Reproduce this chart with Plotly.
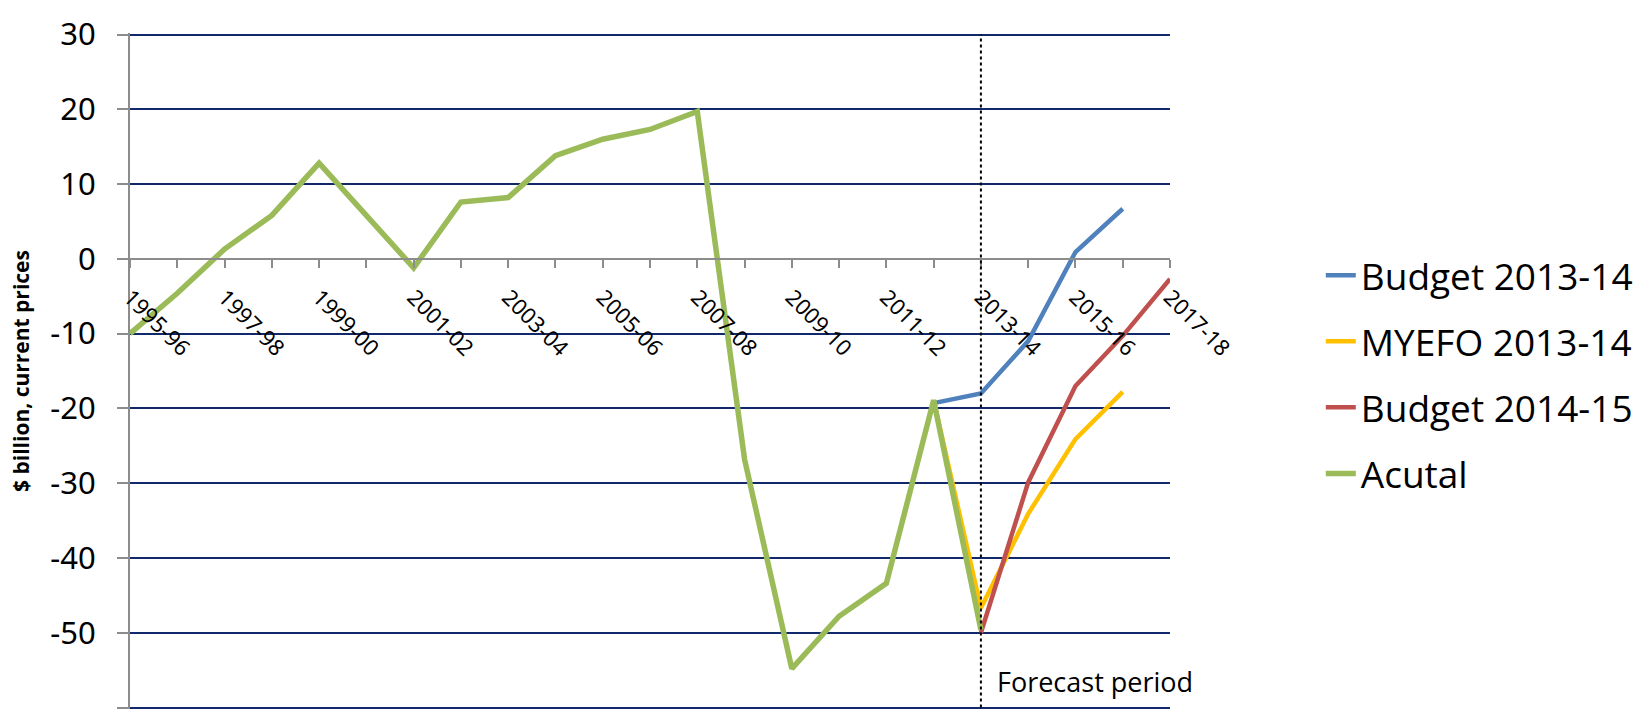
import plotly.graph_objects as go

# Financial years on the category axis
categories = [
    "1995-96", "1996-97", "1997-98", "1998-99", "1999-00", "2000-01",
    "2001-02", "2002-03", "2003-04", "2004-05", "2005-06", "2006-07",
    "2007-08", "2008-09", "2009-10", "2010-11", "2011-12", "2012-13",
    "2013-14", "2014-15", "2015-16", "2016-17", "2017-18",
]

# Underlying cash balance, $ billion (None = no value for that year)
actual = [
    -10.0, -4.6, 1.3, 5.8, 12.8, 5.9, -1.2, 7.6, 8.2, 13.8, 16.0, 17.3,
    19.7, -26.8, -54.8, -47.8, -43.4, -18.9, -49.6, None, None, None, None,
]
budget_2013_14 = [None] * 17 + [-19.3, -18.0, -11.0, 0.9, 6.7, None]
myefo_2013_14 = [None] * 17 + [-18.9, -46.7, -34.1, -24.1, -17.8, None]
budget_2014_15 = [None] * 18 + [-50.0, -29.9, -17.0, -10.3, -2.7]

series_names = ["Budget 2013-14", "MYEFO 2013-14", "Budget 2014-15", "Acutal"]
series_values = [budget_2013_14, myefo_2013_14, budget_2014_15, actual]
series_colors = ["#4F81BD", "#FFC000", "#C0504D", "#9BBB59"]
series_widths = [4.5, 4.5, 4.5, 5.5]

forecast_start = "2013-14"
y_min, y_max, y_step = -60, 30, 10
y_ticks = list(range(y_min, y_max + 1, y_step))
y_tick_text = [str(v) for v in y_ticks]
tick_labels = [c if i % 2 == 0 else "" for i, c in enumerate(categories)]

fig = go.Figure()
for name, vals, col, w in zip(series_names, series_values, series_colors, series_widths):
    fig.add_trace(go.Scatter(
        x=categories, y=vals, name=name, mode="lines",
        line=dict(color=col, width=w), connectgaps=False,
        legendgroup=name,
    ))

grid_navy = "#11296B"
axis_grey = "#8C8C8C"

# small padding so the gridlines at the range ends are still drawn
pad = 0.2

fig.update_layout(
    width=1652, height=723,
    margin=dict(l=130, r=482, t=21, b=14),
    paper_bgcolor="white", plot_bgcolor="white",
    font=dict(family="Noto Sans", color="black"),
    xaxis=dict(
        type="category", range=[0, len(categories) - 1],
        anchor="free", position=(0 - y_min + pad) / (y_max - y_min + 2 * pad),
        showgrid=False, zeroline=False,
        showline=True, linecolor=axis_grey, linewidth=2,
        ticks="outside", ticklen=8, tickwidth=1.5, tickcolor=axis_grey,
        tickmode="array", tickvals=categories, ticktext=tick_labels,
        tickangle=45, tickfont=dict(family="Noto Sans", size=22, color="black"),
        ticklabelstandoff=8,
    ),
    yaxis=dict(
        range=[y_min - pad, y_max + pad], tickmode="array",
        tickvals=y_ticks, ticktext=y_tick_text,
        showgrid=True, gridcolor=grid_navy, gridwidth=2,
        zeroline=True, zerolinecolor=axis_grey, zerolinewidth=2,
        showline=True, linecolor=axis_grey, linewidth=2,
        ticks="outside", ticklen=11, tickwidth=1.5, tickcolor=axis_grey,
        tickfont=dict(family="Noto Sans", size=31, color="black"),
        ticklabelstandoff=15,
    ),
    legend=dict(
        x=1.145, y=0.687, xanchor="left", yanchor="top",
        font=dict(family="Open Sans", size=37, color="black"),
        traceorder="grouped", tracegroupgap=15,
        bgcolor="rgba(0,0,0,0)",
    ),
    showlegend=True,
)

# Start of the forecast period
forecast_idx = categories.index(forecast_start)
fig.add_shape(
    type="line", xref="x", yref="y",
    x0=forecast_idx, x1=forecast_idx, y0=y_min, y1=y_max,
    line=dict(color="black", width=2, dash="dot"),
)
fig.add_annotation(
    x=forecast_idx, y=-56.5, xref="x", yref="y",
    text="Forecast period", showarrow=False,
    xanchor="left", yanchor="middle", xshift=14,
    font=dict(family="Open Sans", size=27, color="black"),
)

# Y axis title
fig.add_annotation(
    x=(21 - 130) / 1040, y=0.5, xref="paper", yref="paper",
    text="<b>$ billion, current prices</b>", showarrow=False, textangle=-90,
    xanchor="center", yanchor="middle",
    font=dict(family="Open Sans", size=21, color="black"),
)

fig.write_html("out.html")
